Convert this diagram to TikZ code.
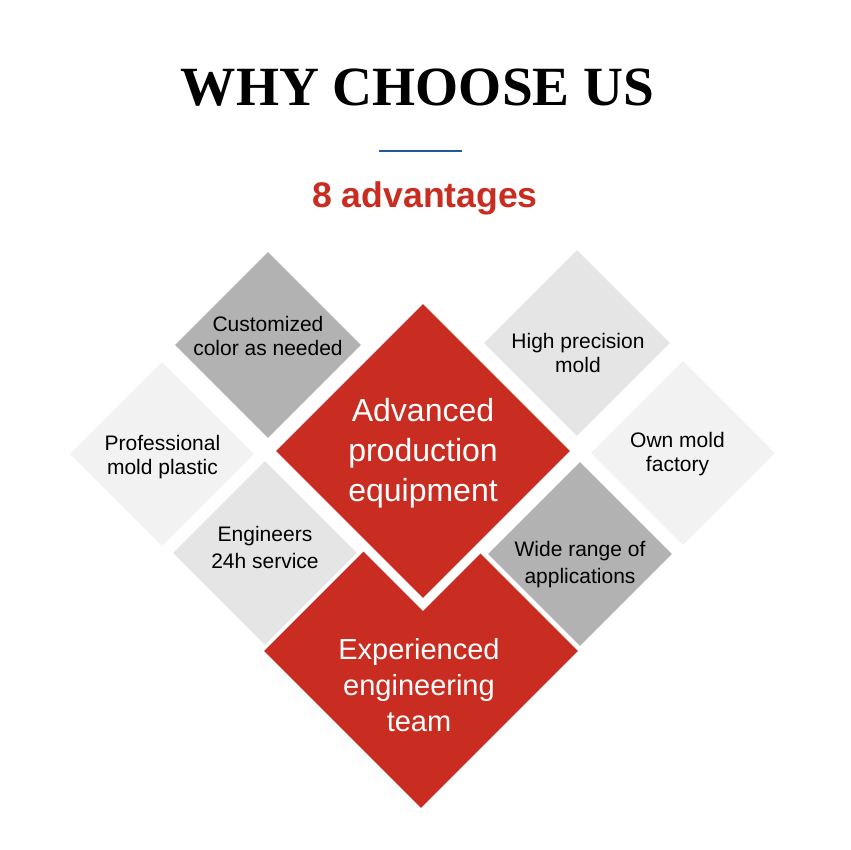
\documentclass[tikz,border=0pt]{standalone}
\usepackage{fontspec}
\setmainfont{Liberation Sans}
\newfontfamily\serifbold{Liberation Serif}
\usetikzlibrary{shapes.geometric}

\definecolor{wred}{RGB}{201,44,33}
\definecolor{wblue}{RGB}{31,90,160}

\tikzstyle{gem} = [diamond, aspect=1, inner sep=0pt]
\tikzstyle{small} = [align=center, font=\fontsize{15.75}{18}\selectfont]
\tikzstyle{wide} = [align=center, font=\fontsize{15.75}{20.25}\selectfont]
\tikzstyle{big} = [align=center, text=white]
\def\cR{wred}
\def\cD{black!30}
\def\cM{black!10}
\def\cL{black!5}

\begin{document}
\begin{tikzpicture}[x=0.75pt,y=-0.75pt]

\useasboundingbox[fill=white] (0,0) rectangle (850,850);

\node[anchor=base,font=\serifbold\bfseries\fontsize{41.5}{48}\selectfont]
     at (417.5,105) (title) {WHY CHOOSE US};
\draw[wblue,line width=1.5pt] (379,151) -- (462,151);
\node[anchor=base,\cR,font=\bfseries\fontsize{26.7}{30}\selectfont]
     at (425,207) (sub) {8 advantages};

\node[gem,fill=\cR,minimum size=314*0.75pt] at (421,651) (exp) {};
\node[gem,fill=white,minimum size=320*0.75pt] at (423,451) (advgap) {};
\node[gem,fill=\cR,minimum size=294*0.75pt] at (423,451) (adv) {};

\node[gem,fill=\cD,minimum size=186*0.75pt] at (268,345) (cust) {};
\node[gem,fill=\cM,minimum size=186*0.75pt] at (577,343) (prec) {};
\node[gem,fill=\cL,minimum size=184*0.75pt] at (162,454) (prof) {};
\node[gem,fill=\cL,minimum size=184*0.75pt] at (683,453) (own) {};
\node[gem,fill=\cM,minimum size=184*0.75pt] at (265,553) (eng) {};
\node[gem,fill=\cD,minimum size=184*0.75pt] at (580,554) (wide) {};

\node[small] at (268,335.5) (custT) {Customized\\color as needed};
\node[small] at (578,352.5) (precT) {High precision\\mold};
\node[small] at (162.5,457.5) (profT) {Professional\\mold plastic};
\node[small] at (677.5,454) (ownT) {Own mold\\factory};
\node[wide] at (265,547.5) (engT) {Engineers\\24h service};
\node[wide] at (580,564.5) (wideT) {Wide range of\\applications};

\node[big,font=\fontsize{24}{30}\selectfont]
     at (423,453) (advT) {Advanced\\production\\equipment};
\node[big,font=\fontsize{21.75}{27}\selectfont]
     at (419,685) (expT) {Experienced\\engineering\\team};

\end{tikzpicture}
\end{document}
